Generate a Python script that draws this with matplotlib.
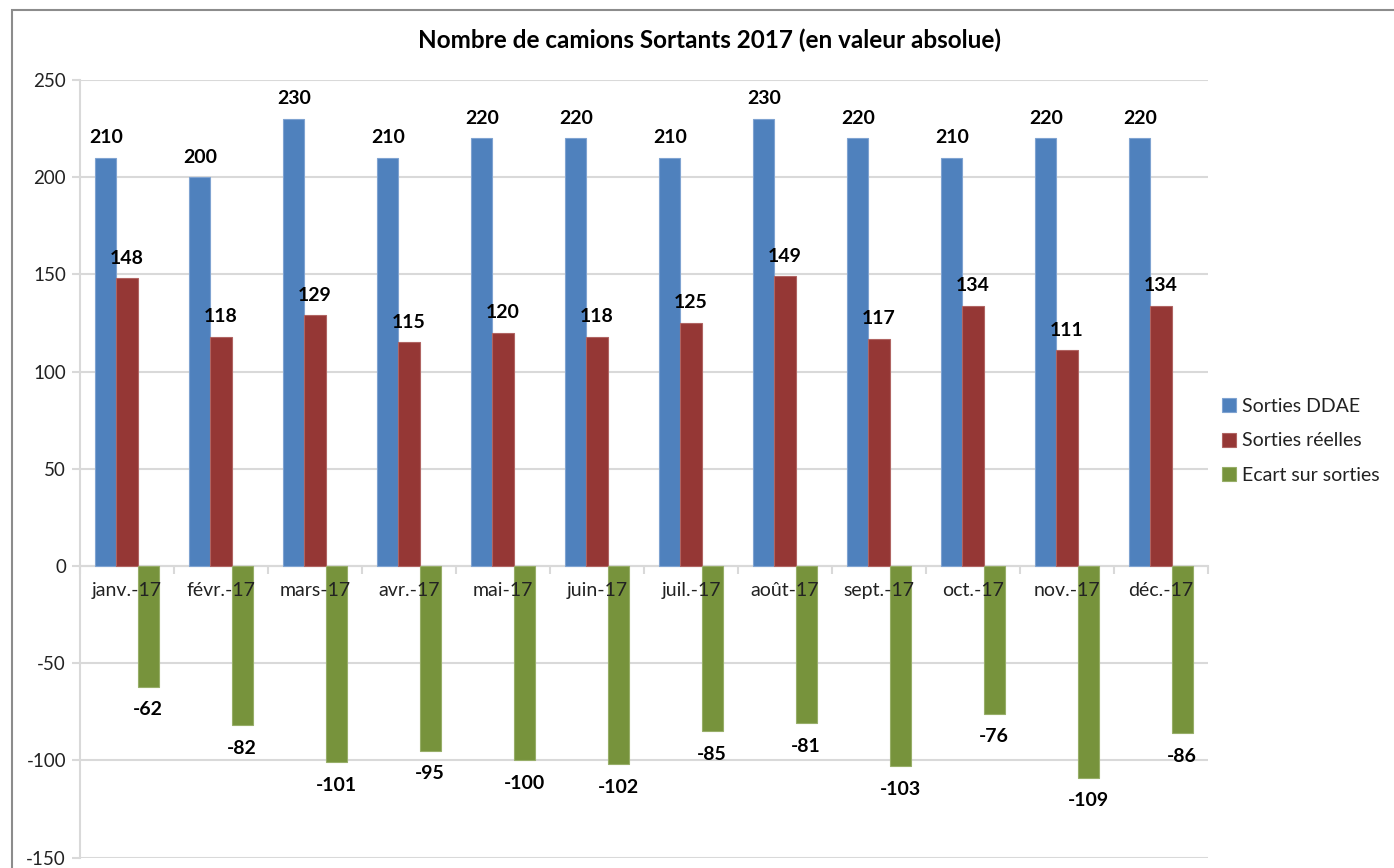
import matplotlib
matplotlib.use("Agg")
import matplotlib.pyplot as plt
from matplotlib.patches import Rectangle
import numpy as np

months = ["janv.-17", "févr.-17", "mars-17", "avr.-17", "mai-17", "juin-17",
          "juil.-17", "août-17", "sept.-17", "oct.-17", "nov.-17", "déc.-17"]
sorties_ddae = [210, 200, 230, 210, 220, 220, 210, 230, 220, 210, 220, 220]
sorties_reelles = [148, 118, 129, 115, 120, 118, 125, 149, 117, 134, 111, 134]
ecart = [-62, -82, -101, -95, -100, -102, -85, -81, -103, -76, -109, -86]
series_names = ["Sorties DDAE", "Sorties réelles", "Ecart sur sorties"]
colors = ["#4F81BD", "#953735", "#77933C"]
edge_colors = ["#7FA3D1", "#B06462", "#97AE68"]
yticks = [-150, -100, -50, 0, 50, 100, 150, 200, 250]

plt.rcParams['font.family'] = ['Lato', 'DejaVu Sans']

fig = plt.figure(figsize=(13.94, 8.68), dpi=100)
ax = fig.add_axes([80/1394, 1-857.6/868, (1208-80)/1394, (857.6-80)/868])

# Figure border (top and left visible, others off-canvas)
fig.patches.append(Rectangle((12/1394, -0.05), 1.2, 1-10/868+0.05, transform=fig.transFigure,
                             fill=False, edgecolor="#8C8C8C", linewidth=1.5, zorder=0))

x = np.arange(len(months))
w = 0.225
offsets = [-w, 0, w]
data = [sorties_ddae, sorties_reelles, ecart]
for vals, off, c, ec, name in zip(data, offsets, colors, edge_colors, series_names):
    ax.bar(x + off, vals, width=w, color=c, edgecolor=ec, linewidth=0.8,
           label=name, zorder=3)
    for xi, v in zip(x + off, vals):
        dy = 14.5 if v >= 0 else -16.5
        ax.annotate(str(v), (xi, v), xytext=(0, dy), textcoords="offset points",
                    ha="center", va="center", fontsize=14, fontweight="bold",
                    color="black", zorder=5)

ax.set_xlim(-0.5, len(months) - 0.5)
ax.set_ylim(-150, 250)
ax.set_yticks(yticks)
ax.set_yticklabels([str(t) for t in yticks], fontsize=13.5)
ax.yaxis.grid(True, color="#D9D9D9", linewidth=1.5, zorder=0)
ax.set_axisbelow(True)

for s in ["top", "right"]:
    ax.spines[s].set_visible(False)
ax.spines["left"].set_color("#D9D9D9")
ax.spines["left"].set_linewidth(1.5)
ax.spines["bottom"].set_position(("data", 0))
ax.spines["bottom"].set_color("#D9D9D9")
ax.spines["bottom"].set_linewidth(1.5)
ax.spines["bottom"].set_zorder(2)
ax.tick_params(axis="y", length=6, width=1.5, color="#D9D9D9", pad=4, labelcolor="#222222")

ax.set_xticks(x)
ax.set_xticklabels([])
ax.set_xticks(np.arange(len(months) + 1) - 0.5, minor=True)
ax.tick_params(axis="x", which="major", length=0)
ax.tick_params(axis="x", which="minor", length=6, width=1.5, color="#D9D9D9", direction="out")
for xi, m in zip(x, months):
    ax.annotate(m, (xi, 0), xytext=(0, -17.5), textcoords="offset points",
                ha="center", va="center", fontsize=14, color="#222222", zorder=6)

fig.text(709/1394, 1-40/868, "Nombre de camions Sortants 2017 (en valeur absolue)",
         ha="center", va="center", fontsize=17.5, fontweight="bold", color="black")

leg = ax.legend(loc="center left", bbox_to_anchor=(1214/1394, 1-441/868), bbox_transform=fig.transFigure,
                frameon=False, fontsize=14, handlelength=0.75, handleheight=0.75,
                handletextpad=0.3, labelspacing=0.9, borderaxespad=0)
for t in leg.get_texts():
    t.set_color("#222222")

fig.savefig("out.png", dpi=100, facecolor="white")
